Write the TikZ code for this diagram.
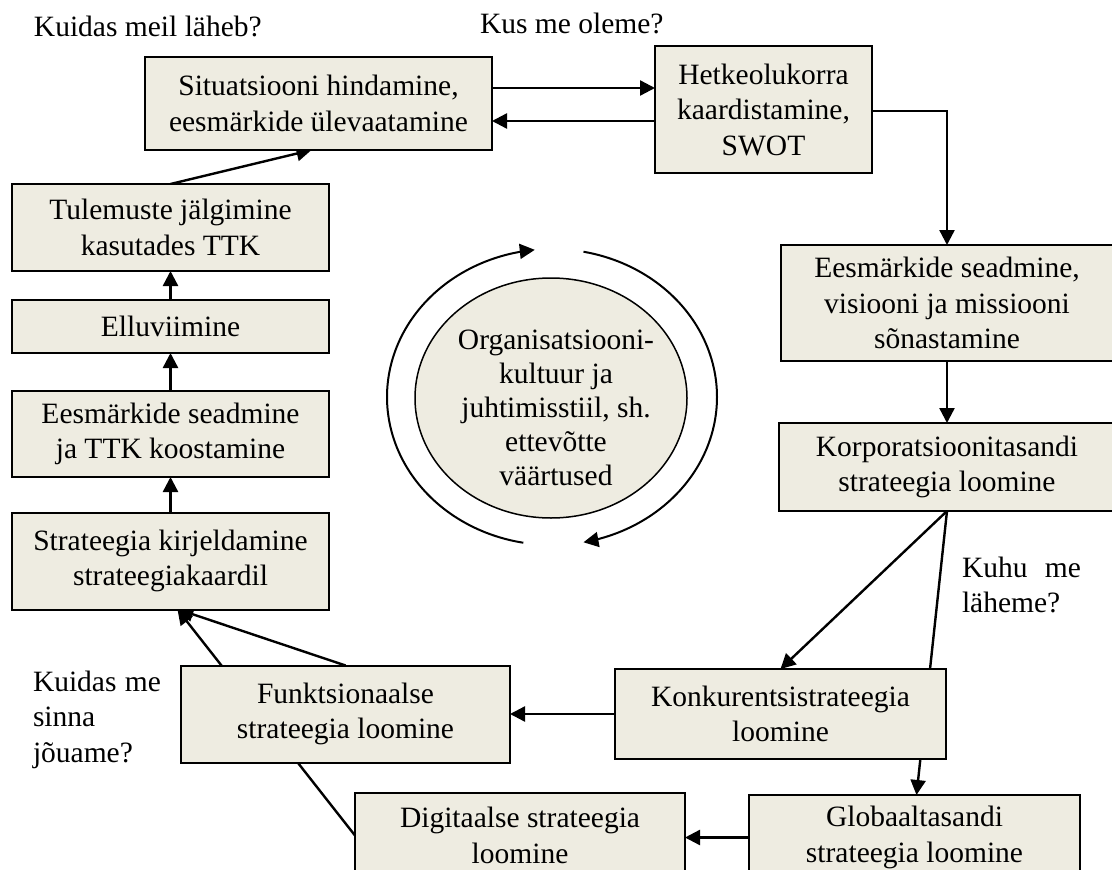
\documentclass[tikz,border=0pt]{standalone}
\usepackage{fontspec}
\setmainfont{Liberation Serif}
\usetikzlibrary{arrows.meta,calc,backgrounds,shapes.geometric}
\definecolor{boxfill}{RGB}{238,236,225}
\tikzset{
  every node/.style={font=\fontsize{29.5}{35.5}\selectfont, inner sep=0pt, outer sep=0pt},
  box/.style={draw=black, line width=2pt, fill=boxfill, rectangle, align=center},
  conn/.style={draw=black, line width=2.4pt, -{Triangle[length=15pt,width=15pt]}},
  cyclearc/.style={draw=black, line width=2pt, -{Triangle[length=15pt,width=15pt]}},
  lbl/.style={align=left}
}
\begin{document}
\begin{tikzpicture}[x=1pt,y=-1pt]
\useasboundingbox (0,0) rectangle (1112,870);

% process boxes
\node[box, minimum width=347, minimum height=93] (sit) at (318.5,103.5)
  {Situatsiooni hindamine,\\eesmärkide ülevaatamine};
\node[box, minimum width=217, minimum height=127] (het) at (763.5,109.5)
  {Hetkeolukorra\\kaardistamine,\\SWOT};
\node[box, minimum width=332, minimum height=116] (eesm1) at (947,303)
  {Eesmärkide seadmine,\\visiooni ja missiooni\\sõnastamine};
\node[box, minimum width=336, minimum height=88] (korp) at (947,467)
  {Korporatsioonitasandi\\strateegia loomine};
\node[box, minimum width=331, minimum height=90] (konk) at (780.5,714)
  {Konkurentsistrateegia\\loomine};
\node[box, minimum width=331, minimum height=85] (glob) at (914.5,837.5)
  {Globaaltasandi\\strateegia loomine};
\node[box, minimum width=330, minimum height=85] (digi) at (520,835.5)
  {Digitaalse strateegia\\loomine};
\node[box, minimum width=329, minimum height=97] (funk) at (345.5,714)
  {Funktsionaalse\\strateegia loomine};
\node[box, minimum width=317, minimum height=97] (strat) at (170.5,561)
  {Strateegia kirjeldamine\\strateegiakaardil};
\node[box, minimum width=317, minimum height=86] (eesm2) at (170.5,434)
  {Eesmärkide seadmine\\ja TTK koostamine};
\node[box, minimum width=317, minimum height=53] (ellu) at (170.5,326.5)
  {Elluviimine};
\node[box, minimum width=317, minimum height=87] (tul) at (170.5,227.5)
  {Tulemuste jälgimine\\kasutades TTK};

% central culture ellipse
\node[draw=black, line width=1.5pt, fill=boxfill, ellipse, minimum width=272, minimum height=240] (org) at (551,398) {};
\node[align=center, font=\fontsize{29.5}{34}\selectfont] (orgtext) at (556,408)
  {Organisatsiooni-\\kultuur ja\\juhtimisstiil, sh.\\ettevõtte\\väärtused};

% cycle arrows around the ellipse
\draw[cyclearc] plot[domain=100:264, samples=80, smooth] ({552+165*cos(\x)},{397+148*sin(\x)});
\draw[cyclearc] plot[domain=-79:79, samples=80, smooth] ({552+165*cos(\x)},{397+148*sin(\x)});

% questions
\node[lbl, anchor=base west] (q1) at (34,36) {Kuidas meil läheb?};
\node[lbl, anchor=base west] (q2) at (480,33) {Kus me oleme?};
\node[lbl, anchor=north west] (q3) at (962,557) {\makebox[119pt][s]{Kuhu me}\\läheme?};
\node[lbl, anchor=north west] (q4) at (33,671) {\makebox[128pt][s]{Kuidas me}\\sinna\\jõuame?};

% connectors
\begin{scope}[on background layer]
\draw[conn] (ellu.north) -- (tul.south);
\draw[conn] (eesm2.north) -- (ellu.south);
\draw[conn] (strat.north) -- (eesm2.south);
\draw[conn] (tul.north) -- ($(sit.south)+(-7,0)$);
\draw[conn] (sit.east |- 0,88) -- (het.west |- 0,88);
\draw[conn] (het.west |- 0,121) -- (sit.east |- 0,121);
\draw[conn] (het.east |- 0,111) -| (eesm1.north);
\draw[conn] (eesm1.south) -- (korp.north);
\draw[conn] (korp.south) -- (konk.north);
\draw[conn] (korp.south) -- ($(glob.north)+(2,0)$);
\draw[conn] (konk.west) -- (konk.west -| funk.east);
\draw[conn] (glob.west) -- (glob.west -| digi.east);
\draw[conn] (digi.west) -- ($(strat.south)+(7,0)$);
\draw[conn] (funk.north) -- ($(strat.south)+(8,0)$);
\end{scope}
\end{tikzpicture}
\end{document}
